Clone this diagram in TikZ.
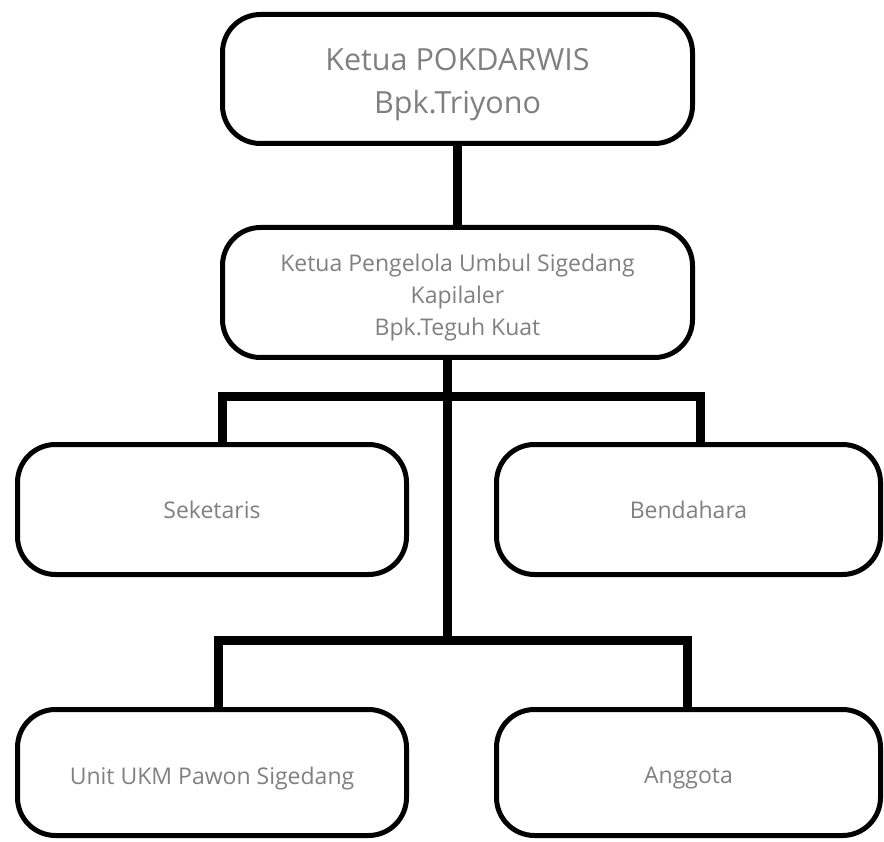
\documentclass[tikz,border=0pt]{standalone}
\usepackage{fontspec}
\setmainfont{Open Sans}
\definecolor{txtgray}{HTML}{808080}
\newcommand{\lowr}[2]{\raisebox{-#1}[\height][\depth]{#2}}
\begin{document}
\begin{tikzpicture}[x=1pt,y=-1pt,
  orgbox/.style={draw=black, line width=5pt, rounded corners=38pt, fill=white,
    text=txtgray, align=center, inner sep=0pt},
  conn/.style={draw=black, line width=9pt, line join=miter, line cap=butt}]
\useasboundingbox (0,0) rectangle (884,842);
% junction points
\coordinate (topjoin) at (457,150);
\coordinate (trunk) at (447,640);
\coordinate (bl1) at (222,397);
\coordinate (br1) at (700,397);
\coordinate (bl2) at (218,640);
\coordinate (br2) at (687,640);
% boxes
\node[orgbox, minimum width=470pt, minimum height=129pt,
  font=\fontsize{30.5}{43}\selectfont] (top) at (457.5,79)
  {\lowr{6pt}{Ketua POKDARWIS}\\\lowr{6pt}{Bpk.Triyono}};
\node[orgbox, minimum width=470pt, minimum height=130pt,
  font=\fontsize{23}{32}\selectfont] (mid) at (457.5,292.5)
  {\lowr{5pt}{Ketua Pengelola Umbul Sigedang}\\\lowr{5pt}{Kapilaler}\\\lowr{5pt}{Bpk.Teguh Kuat}};
\node[orgbox, minimum width=389pt, minimum height=130pt,
  font=\fontsize{23}{32}\selectfont] (sek) at (212,509.5) {Seketaris};
\node[orgbox, minimum width=384pt, minimum height=130pt,
  font=\fontsize{23}{32}\selectfont] (ben) at (688.5,509.5) {Bendahara};
\node[orgbox, minimum width=389pt, minimum height=126pt,
  font=\fontsize{23}{32}\selectfont] (unit) at (212,772.5) {\lowr{6pt}{Unit UKM Pawon Sigedang}};
\node[orgbox, minimum width=384pt, minimum height=126pt,
  font=\fontsize{23}{32}\selectfont] (ang) at (688.5,772.5) {\lowr{6pt}{Anggota}};
% connectors
\draw[conn] (top.south -| topjoin) -- (mid.north -| topjoin);
\draw[conn] (mid.south -| trunk) -- (trunk);
\draw[conn] (sek.north -| bl1) -- (bl1) -- (br1) -- (ben.north -| br1);
\draw[conn] (unit.north -| bl2) -- (bl2) -- (br2) -- (ang.north -| br2);
\end{tikzpicture}
\end{document}
